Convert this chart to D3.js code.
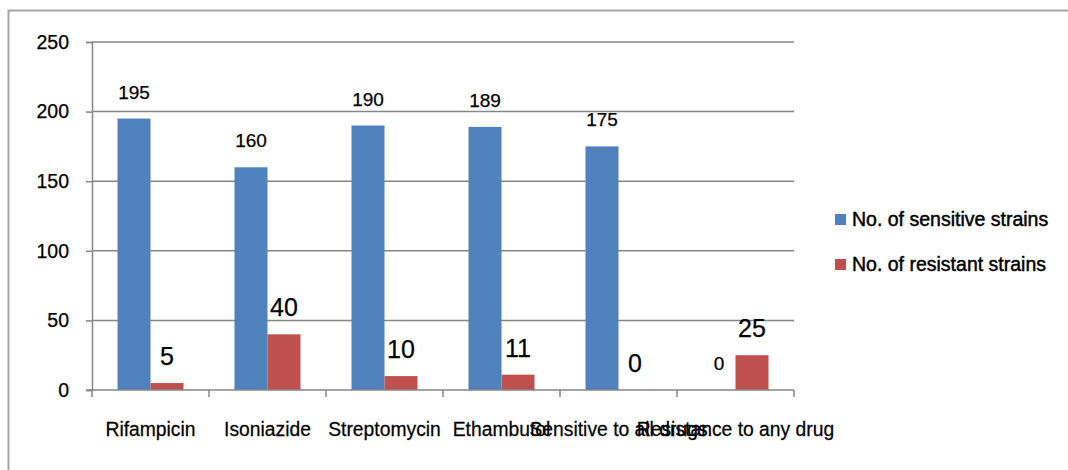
<!DOCTYPE html>
<html>
<head>
<meta charset="utf-8">
<script src="https://cdn.jsdelivr.net/npm/d3@7"></script>
<style>
  body { margin: 0; background: #fff; }
  svg { display: block; font-family: "Liberation Sans", Arial, sans-serif; }
</style>
</head>
<body>
<script>
var width = 1068;
var height = 470;

// data
var categories = ["Rifampicin", "Isoniazide", "Streptomycin", "Ethambutol", "Sensitive to all drugs", "Resistance to any drug"];
var seriesNames = ["No. of sensitive strains", "No. of resistant strains"];
var sensitive = [195, 160, 190, 189, 175, 0];
var resistant = [5, 40, 10, 11, 0, 25];
var yTicks = [0, 50, 100, 150, 200, 250];

var colours = ["#4F81BD", "#C0504D"];

var rows = categories.map(function (c, i) {
    return { cat: c, values: [sensitive[i], resistant[i]] };
});

var svg = d3.select("body").append("svg")
    .attr("width", width)
    .attr("height", height);

// outer frame (only top and left edges show)
svg.append("path")
    .attr("d", "M8.5,470 L8.5,10.5 L1068,10.5")
    .attr("fill", "none")
    .attr("stroke", "#a6a6a6")
    .attr("stroke-width", 2);

var x0 = d3.scaleBand()
    .domain(categories)
    .range([92, 794]);

var x1 = d3.scaleBand()
    .domain([0, 1])
    .range([x0.bandwidth() * 0.218, x0.bandwidth() * 0.782]);

var y = d3.scaleLinear()
    .domain([0, 250])
    .range([390, 42]);

// gridlines + y axis
var yAxis = svg.append("g")
    .attr("transform", "translate(92,0)")
    .call(d3.axisLeft(y).tickValues(yTicks).tickSize(6).tickPadding(17));

yAxis.select(".domain").attr("stroke", "#868686").attr("stroke-width", 1.5);
yAxis.selectAll(".tick line").attr("stroke", "#868686").attr("stroke-width", 1.5);
yAxis.selectAll(".tick text")
    .attr("font-size", 19.5)
    .attr("font-family", "Liberation Sans, Arial, sans-serif")
    .attr("fill", "#000")
    .attr("stroke", "#000")
    .attr("stroke-width", 0.25);

svg.append("g")
    .selectAll("line")
    .data(yTicks.filter(function (d) { return d > 0; }))
    .enter().append("line")
    .attr("x1", 92)
    .attr("x2", 794)
    .attr("y1", function (d) { return y(d); })
    .attr("y2", function (d) { return y(d); })
    .attr("stroke", "#868686")
    .attr("stroke-width", 1.5);

// bars
var groups = svg.append("g")
    .selectAll("g")
    .data(rows)
    .enter().append("g")
    .attr("transform", function (d) { return "translate(" + x0(d.cat) + ",0)"; });

groups.selectAll("rect")
    .data(function (d) { return d.values; })
    .enter().append("rect")
    .attr("x", function (d, i) { return x1(i); })
    .attr("width", x1.bandwidth())
    .attr("y", function (d) { return y(d); })
    .attr("height", function (d) { return y(0) - y(d); })
    .attr("fill", function (d, i) { return colours[i]; });

// value labels
groups.selectAll("text")
    .data(function (d) { return d.values; })
    .enter().append("text")
    .attr("x", function (d, i) { return x1(i) + x1.bandwidth() / 2; })
    .attr("y", function (d, i) { return y(d) - (i === 0 ? 20 : 18); })
    .attr("text-anchor", "middle")
    .attr("font-size", function (d, i) { return i === 0 ? 19 : 25; })
    .attr("fill", "#000")
    .attr("stroke", "#000")
    .attr("stroke-width", 0.25)
    .text(function (d) { return d; });

// x axis
var xAxis = svg.append("g")
    .attr("transform", "translate(0,390)")
    .call(d3.axisBottom(x0).tickSize(0).tickPadding(31));

xAxis.select(".domain").remove();
xAxis.selectAll(".tick text")
    .attr("font-size", 21)
    .attr("transform", "scale(0.92,1)")
    .attr("font-family", "Liberation Sans, Arial, sans-serif")
    .attr("fill", "#000")
    .attr("stroke", "#000")
    .attr("stroke-width", 0.25);

svg.append("line")
    .attr("x1", 86).attr("x2", 794)
    .attr("y1", y(0)).attr("y2", y(0))
    .attr("stroke", "#868686")
    .attr("stroke-width", 1.5);

svg.append("g")
    .selectAll("line")
    .data(categories.concat(["end"]))
    .enter().append("line")
    .attr("x1", function (d, i) { return 92 + i * x0.bandwidth(); })
    .attr("x2", function (d, i) { return 92 + i * x0.bandwidth(); })
    .attr("y1", y(0))
    .attr("y2", y(0) + 7)
    .attr("stroke", "#868686")
    .attr("stroke-width", 1.5);

// legend
var legend = svg.append("g")
    .selectAll("g")
    .data(seriesNames)
    .enter().append("g")
    .attr("transform", function (d, i) { return "translate(835," + (214 + i * 45) + ")"; });

legend.append("rect")
    .attr("width", 11)
    .attr("height", 11)
    .attr("fill", function (d, i) { return colours[i]; });

legend.append("text")
    .attr("x", 17)
    .attr("y", 12)
    .attr("font-size", 19.5)
    .attr("fill", "#000")
    .attr("stroke", "#000")
    .attr("stroke-width", 0.45)
    .text(function (d) { return d; });
</script>
</body>
</html>
